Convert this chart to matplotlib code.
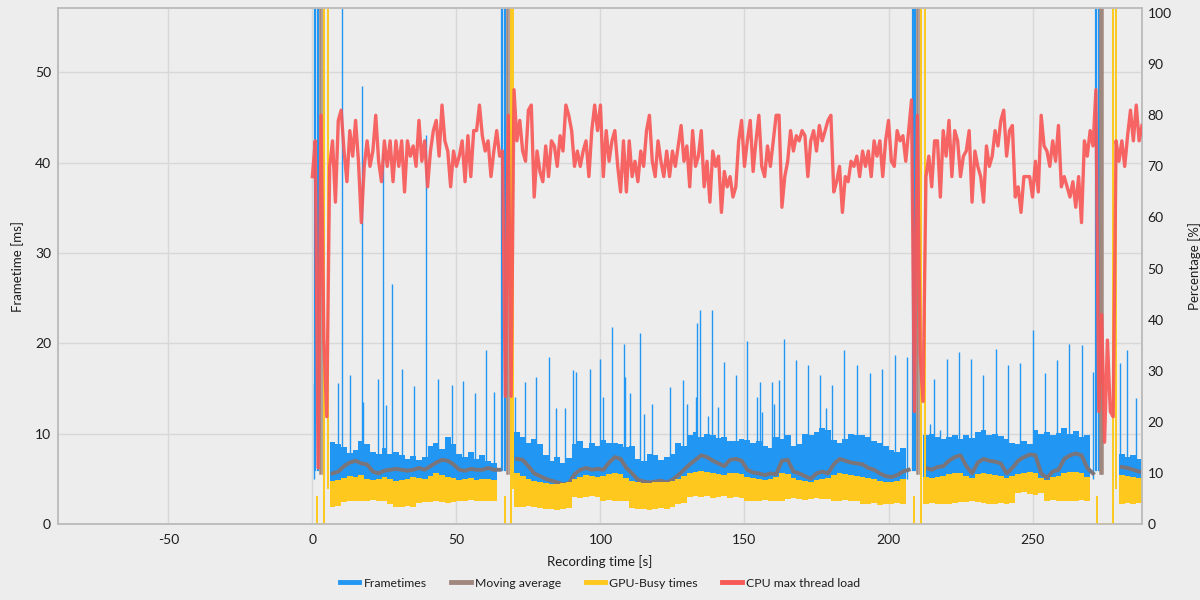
import numpy as np
import matplotlib
matplotlib.use("Agg")
import matplotlib.pyplot as plt
from matplotlib.lines import Line2D

nan = np.nan

# ---------------- data ----------------
BIN_S = 2.0  # width of the envelope bins in seconds

# Frametimes band: upper / lower envelope per 2 s bin [ms]
ft_hi = [7.5, nan, nan, 9.1, 8.8, 8.5, 7.9, 8.2, 9.2, 8.8,
         8.0, 7.8, 8.4, 7.7, 8.0, 7.6, 7.2, 7.5, 7.1, 7.4,
         8.6, 9.0, 8.3, 9.6, 8.8, 7.8, 7.4, 8.0, 7.2, 7.6,
         7.0, 6.8, 7.2, nan, nan, 10.2, 9.6, 9.0, 9.4, 8.8,
         7.6, 7.0, 7.4, 6.8, 7.3, 8.8, 9.2, 8.4, 9.0, 8.6,
         9.3, 9.0, 9.0, 8.9, 8.5, 8.6, 7.2, 7.0, 7.8, 7.6,
         7.1, 7.4, 7.8, 9.0, 8.6, 9.8, 10.2, 9.6, 10.0, 9.8,
         9.5, 9.6, 9.2, 9.2, 9.4, 9.3, 9.0, 9.2, 8.6, 8.4,
         9.6, 9.4, 9.8, 8.6, 8.8, 10.0, 9.8, 10.2, 10.6, 10.4,
         9.3, 9.0, 9.4, 10.0, 9.8, 9.8, 9.6, 9.2, 9.0, 8.6,
         8.2, 8.0, 8.4, 8.6, nan, nan, 9.8, 10.0, 9.6, 9.4,
         9.6, 9.9, 9.4, 9.8, 9.5, 10.2, 10.4, 9.8, 10.0, 9.7,
         9.4, 9.0, 8.8, 9.2, 8.9, 10.4, 10.0, 10.2, 9.8, 10.1,
         10.6, 10.0, 10.3, 9.6, 9.8, 8.6, nan, nan, nan, nan,
         7.8, 7.4, 7.6, 7.2]
ft_lo = [4.6, nan, nan, 4.4, 4.5, 4.7, 4.8, 4.6, 4.5, 4.4,
         4.5, 4.4, 4.6, 4.3, 4.4, 4.5, 4.4, 4.6, 4.5, 4.4,
         4.6, 4.8, 4.7, 4.6, 4.5, 4.4, 4.5, 4.6, 4.4, 4.5,
         4.5, 4.4, 4.6, nan, nan, 4.8, 4.6, 4.4, 4.2, 4.1,
         4.0, 3.9, 3.9, 4.0, 4.1, 4.4, 4.6, 4.8, 4.6, 4.5,
         4.6, 4.8, 4.9, 4.8, 4.5, 4.2, 4.0, 3.9, 3.9, 4.0,
         4.0, 4.1, 4.2, 4.5, 4.7, 5.0, 5.2, 5.3, 5.1, 5.0,
         4.9, 4.8, 5.0, 5.0, 4.9, 4.6, 4.5, 4.4, 4.3, 4.4,
         4.6, 5.0, 4.9, 4.5, 4.3, 4.2, 4.1, 4.3, 4.4, 4.5,
         4.8, 5.0, 4.9, 4.8, 4.7, 4.6, 4.5, 4.4, 4.2, 4.1,
         4.1, 4.2, 4.4, 4.5, nan, nan, 4.6, 4.5, 4.6, 4.7,
         4.9, 5.0, 5.0, 4.7, 4.5, 4.9, 5.0, 4.9, 4.8, 4.7,
         4.5, 4.7, 4.9, 5.0, 5.1, 5.0, 4.5, 4.3, 4.6, 4.7,
         5.0, 5.1, 5.2, 5.0, 4.6, 4.4, nan, nan, nan, nan,
         4.8, 4.7, 4.6, 4.5]

# GPU-Busy band [ms]
gpu_hi = [5.0, nan, nan, 4.8, 4.9, 5.1, 5.3, 5.2, 5.4, 5.0,
          4.9, 5.0, 5.2, 5.0, 4.8, 4.9, 5.0, 5.2, 5.1, 5.0,
          5.3, 5.6, 5.4, 5.2, 5.1, 4.9, 5.0, 5.1, 4.9, 5.0,
          5.0, 4.9, 5.1, nan, nan, 5.6, 5.3, 5.0, 4.8, 4.6,
          4.5, 4.4, 4.4, 4.5, 4.6, 5.0, 5.2, 5.4, 5.3, 5.2,
          5.3, 5.5, 5.6, 5.5, 5.1, 4.8, 4.6, 4.5, 4.5, 4.6,
          4.6, 4.7, 4.8, 5.0, 5.3, 5.6, 5.8, 5.9, 5.7, 5.6,
          5.5, 5.4, 5.6, 5.6, 5.5, 5.2, 5.1, 5.0, 4.9, 5.0,
          5.2, 5.6, 5.5, 5.1, 4.9, 4.8, 4.7, 4.9, 5.0, 5.1,
          5.4, 5.6, 5.5, 5.4, 5.3, 5.2, 5.1, 5.0, 4.8, 4.7,
          4.7, 4.8, 5.0, 5.1, nan, nan, 5.2, 5.1, 5.2, 5.3,
          5.5, 5.6, 5.6, 5.3, 5.1, 5.5, 5.6, 5.5, 5.4, 5.3,
          5.1, 5.3, 5.5, 5.6, 5.7, 5.6, 5.1, 4.9, 5.2, 5.3,
          5.6, 5.7, 5.8, 5.6, 5.2, 5.0, nan, nan, nan, nan,
          5.4, 5.3, 5.2, 5.1]
gpu_lo = [2.0, nan, nan, 1.9, 2.0, 2.4, 2.6, 2.6, 2.5, 2.6,
          2.7, 2.6, 2.5, 2.2, 1.9, 1.9, 2.0, 1.9, 2.3, 2.4,
          2.4, 2.5, 2.4, 2.3, 2.4, 2.6, 2.6, 2.7, 2.6, 2.6,
          2.6, 2.5, 2.6, nan, nan, 1.9, 1.9, 2.0, 1.9, 1.8,
          1.7, 1.7, 1.6, 1.7, 1.8, 3.0, 2.9, 3.0, 3.1, 3.0,
          2.6, 2.7, 2.6, 2.5, 2.6, 1.8, 1.7, 1.7, 1.6, 1.7,
          1.8, 1.7, 1.9, 2.2, 2.3, 3.0, 3.1, 3.0, 3.1, 2.9,
          3.0, 3.1, 2.9, 3.0, 2.9, 2.6, 2.5, 2.6, 2.7, 2.6,
          2.6, 2.5, 2.8, 2.9, 2.8, 2.7, 2.8, 2.9, 2.8, 2.8,
          2.6, 2.6, 2.7, 2.6, 2.5, 2.2, 2.2, 2.3, 2.1, 2.2,
          2.2, 2.3, 2.2, 2.2, nan, nan, 2.2, 2.3, 2.2, 2.2,
          2.2, 2.3, 2.4, 2.4, 2.5, 2.4, 2.3, 2.2, 2.2, 2.3,
          2.2, 2.3, 3.4, 3.5, 3.3, 3.2, 3.4, 2.6, 2.7, 2.6,
          2.6, 2.5, 2.6, 2.7, 2.6, 2.6, nan, nan, nan, nan,
          2.2, 2.3, 2.2, 2.3]

# Moving average [ms]
moving_avg = [5.4, nan, nan, 5.6, 5.8, 6.4, 6.8, 7.0, 6.7, 6.6,
              5.8, 5.6, 5.9, 6.0, 6.1, 6.0, 5.9, 6.0, 6.2, 6.0,
              6.4, 6.8, 7.1, 7.0, 6.6, 6.0, 5.9, 6.1, 6.0, 6.0,
              6.2, 6.0, 6.0, nan, nan, 7.2, 7.1, 6.4, 5.6, 5.3,
              5.0, 4.8, 4.6, 4.4, 4.5, 5.5, 6.0, 6.2, 6.0, 6.1,
              6.0, 6.8, 7.4, 7.2, 6.2, 5.6, 4.9, 4.7, 4.6, 4.7,
              4.8, 4.6, 4.9, 5.4, 6.0, 6.6, 7.1, 7.6, 7.4, 7.0,
              6.7, 6.4, 7.1, 7.2, 7.0, 6.0, 5.7, 5.6, 5.4, 5.6,
              5.5, 7.0, 7.1, 5.8, 5.6, 5.3, 5.0, 5.6, 5.8, 5.6,
              6.6, 7.2, 7.0, 6.8, 6.7, 6.6, 6.2, 6.0, 5.6, 5.3,
              5.2, 5.4, 5.8, 6.0, nan, nan, 6.2, 6.0, 6.3, 6.4,
              7.0, 7.4, 7.6, 6.4, 5.6, 6.8, 7.2, 7.0, 6.9, 6.7,
              5.6, 6.2, 7.0, 7.4, 7.7, 7.6, 5.6, 5.1, 5.8, 6.0,
              7.2, 7.6, 7.8, 7.6, 6.2, 5.6, nan, nan, nan, nan,
              6.3, 6.2, 6.0, 5.8]

# Frametime spikes above the dense band: time [s], value [ms]
spike_t = [0.5, 8.9, 10.3, 13.0, 17.3, 17.6, 22.7, 24.6, 25.4, 27.7,
           31.1, 35.3, 39.3, 43.6, 48.3, 52.2, 56.6, 60.4, 63.2, 70.3,
           73.9, 77.8, 82.0, 84.7, 87.8, 90.5, 91.4, 96.5, 100.0, 101.0,
           104.0, 108.1, 108.6, 110.4, 113.9, 115.0, 118.0, 124.3, 128.7, 130.1,
           133.3, 133.6, 134.4, 137.3, 138.8, 140.7, 142.8, 146.9, 150.9, 154.2,
           155.3, 156.1, 159.5, 160.2, 161.9, 163.7, 167.8, 172.1, 176.2, 178.2,
           180.4, 184.7, 189.0, 193.5, 197.9, 202.2, 206.5, 214.3, 215.7, 218.0,
           220.3, 224.6, 228.7, 232.9, 237.2, 241.4, 245.6, 250.0, 254.2, 258.5,
           262.6, 267.0, 271.0, 280.4, 282.7, 285.9]
spike_ms = [15.6, 15.6, 80.0, 16.5, 48.5, 13.5, 16.1, 41.0, 13.2, 26.6,
            17.2, 15.3, 43.0, 16.0, 15.4, 15.8, 14.5, 19.3, 14.6, 14.0,
            15.7, 16.3, 18.5, 12.8, 12.8, 17.0, 16.8, 17.2, 18.3, 14.0,
            21.8, 19.9, 16.3, 14.5, 21.1, 12.2, 13.3, 15.2, 15.9, 13.3,
            14.0, 22.2, 23.7, 11.9, 23.7, 12.9, 17.9, 16.5, 20.3, 14.0,
            15.7, 12.4, 15.7, 13.3, 15.9, 20.5, 18.1, 17.6, 16.5, 12.8,
            15.4, 19.3, 17.6, 16.7, 17.2, 18.7, 18.5, 11.1, 16.1, 10.4,
            18.3, 19.0, 18.3, 16.5, 19.4, 17.6, 17.8, 21.5, 16.7, 18.1,
            19.9, 19.8, 16.8, 17.8, 19.3, 13.9]

# Loading gaps (four scene transitions)
gap_ft_start = [1.0, 66.0, 208.4, 272.0]     # huge frame, off scale
gap_ft_end = [2.0, 66.9, 209.3, 272.9]
gap_ft_ms = [1500, 900, 1100, 1300]
gap_ma_start = [2.6, 67.7, 210.0, 273.4]
gap_ma_end = [3.7, 68.6, 210.9, 274.2]
gap_ma_ms = [300, 180, 220, 260]
gap_gpu_zero_start = [1.6, 66.7, 208.8, 272.5]
gap_gpu_zero_end = [4.1, 68.8, 211.3, 277.8]
gap_gpu_resume = [5.5, 69.8, 212.7, 279.1]
gap_gpu_ms = [1400, 850, 1000, 1200]

# CPU max thread load [%], one sample per second from t = 0 s
cpu_load = [68, 75, 11, 80, 36, 21,
            70, 75, 63, 79, 81, 73, 67, 77, 72, 79, 71, 59, 70, 75,
            70, 73, 80, 71, 67, 75, 70, 75, 67, 75, 70, 75, 65, 75,
            72, 74, 70, 79, 71, 75, 66, 73, 77, 79, 72, 82, 75, 73,
            66, 73, 70, 72, 75, 67, 76, 68, 77, 77, 82, 76, 73, 75,
            68, 73, 77, 72, 73,
            25, 80, 25, 85,
            75, 79, 73, 71, 81, 82, 64, 73, 69, 67, 74, 68, 75, 74,
            70, 76, 73, 82, 80, 77, 70, 73, 70, 73, 75, 68, 77, 82,
            77, 82, 68, 77, 71, 75, 77, 70, 65, 75, 65, 75, 68, 71,
            67, 73, 70, 77, 80, 71, 68, 75, 71, 68, 73, 68, 73, 70,
            74, 78, 71, 74, 66, 77, 70, 72, 77, 66, 71, 63, 73,
            70, 72, 61, 69, 66, 68, 64, 66, 75, 79, 70, 75, 79, 69,
            75, 80, 70, 68, 74, 70, 75, 80, 80, 62, 68, 71, 77, 73,
            76, 75, 77, 76, 68, 75, 77, 73, 78, 75, 77, 79, 80, 65,
            67, 70, 61, 68, 67, 71, 70, 72, 68, 73, 70, 73, 68, 75,
            72, 75, 68, 75, 79, 71, 70, 77, 75, 76, 71, 77, 83,
            22, 80, 33, 24,
            68, 72, 66, 75, 75, 64, 77, 72, 79, 68, 77, 75, 68, 72,
            73, 77, 63, 73, 70, 68, 63, 74, 70, 72, 77, 74, 79, 81,
            72, 77, 78, 64, 66, 61, 68, 68, 68, 64, 71, 65, 80, 74,
            73, 70, 75, 71, 78, 66, 68, 66, 64, 67, 62, 68, 59, 75,
            72, 77, 74, 85,
            22, 41, 16, 36, 22, 21,
            75, 71, 75, 70, 76, 81, 75, 82, 75, 78]

x_ticks = [-50, 0, 50, 100, 150, 200, 250]
y_ticks = [0, 10, 20, 30, 40, 50]
y2_ticks = [0, 10, 20, 30, 40, 50, 60, 70, 80, 90, 100]

# ---------------- style ----------------
BG = "#ededed"
C_FT = "#2196f3"
C_MA = "#7a747b"
C_MA_LEG = "#a0887f"
C_GPU = "#fec81e"
C_CPU = "#f75858"
plt.rcParams["font.family"] = ["Lato", "DejaVu Sans"]
plt.rcParams["axes.unicode_minus"] = False

fig = plt.figure(figsize=(12, 6), dpi=100, facecolor=BG)
ax = fig.add_axes([58 / 1200, 76 / 600, 1084 / 1200, 516 / 600])
ax.set_facecolor(BG)
ax2 = ax.twinx()
ax2.patch.set_visible(False)

n = len(ft_hi)
edges = np.arange(n + 1) * BIN_S
centers = (np.arange(n) + 0.5) * BIN_S


def ext(a):
    a = np.asarray(a, dtype=float)
    return np.append(a, a[-1])


# Frametimes: dense band + spikes + gap frames
ax.fill_between(edges, ext(ft_lo), ext(ft_hi), step="post", color=C_FT, lw=0, zorder=2)
ax.vlines(spike_t, 5.0, spike_ms, color=C_FT, lw=1.0, zorder=2)
for s, e, v in zip(gap_ft_start, gap_ft_end, gap_ft_ms):
    ax.plot([s, s, e, e], [6.0, v, v, 6.0], color=C_FT, lw=1.6, zorder=2)

# Moving average
ax.plot(centers, moving_avg, color=C_MA, lw=2.8, zorder=3)
for s, e, v in zip(gap_ma_start, gap_ma_end, gap_ma_ms):
    ax.plot([s, s, e, e], [5.6, v, v, 5.6], color=C_MA_LEG, lw=1.8, zorder=3)

# GPU busy
ax.fill_between(edges, ext(gpu_lo), ext(gpu_hi), step="post", color=C_GPU, lw=0, zorder=4)
for zs, ze, r, v in zip(gap_gpu_zero_start, gap_gpu_zero_end, gap_gpu_resume, gap_gpu_ms):
    ax.plot([zs, zs, ze, ze, r, r], [3.0, 0.05, 0.05, v, v, 4.0], color=C_GPU, lw=1.4, zorder=4)

# CPU max thread load on the right axis
ax2.plot(np.arange(len(cpu_load)), cpu_load, color=C_CPU, lw=2.4, alpha=0.92, zorder=5)

# axes
ax.set_xlim(-88.3, 288.0)
ax.set_ylim(0, 57.1)
ax2.set_ylim(0, 101.0)
ax.set_xticks(x_ticks)
ax.set_yticks(y_ticks)
ax2.set_yticks(y2_ticks)
ax.grid(True, color="#d8d8d8", lw=1.0)
ax.set_axisbelow(True)
for a in (ax, ax2):
    for sp in a.spines.values():
        sp.set_color("#bdbdbd")
        sp.set_linewidth(1.2)
    a.tick_params(length=0, labelsize=10, colors="#1e1e1e")
ax.tick_params(axis="x", pad=7)
ax.tick_params(axis="y", pad=5)
ax2.tick_params(axis="y", pad=4)

ax.set_xlabel("Recording time [s]", fontsize=9.5, color="#1e1e1e", labelpad=7)
ax.set_ylabel("Frametime [ms]", fontsize=9.5, color="#1e1e1e", labelpad=8)
ax2.set_ylabel("Percentage [%]", fontsize=9.5, color="#1e1e1e", labelpad=12)

handles = [Line2D([], [], color=C_FT, lw=3.5),
           Line2D([], [], color=C_MA_LEG, lw=3.5),
           Line2D([], [], color=C_GPU, lw=3.5),
           Line2D([], [], color=C_CPU, lw=3.5)]
labels = ["Frametimes", "Moving average", "GPU-Busy times", "CPU max thread load"]
fig.legend(handles, labels, loc="center", bbox_to_anchor=(0.5, 0.028), ncol=4,
           frameon=False, fontsize=8.8, handlelength=1.6, handletextpad=0.35,
           columnspacing=2.0, labelcolor="#1e1e1e")

fig.savefig("out.png", dpi=100, facecolor=BG)
